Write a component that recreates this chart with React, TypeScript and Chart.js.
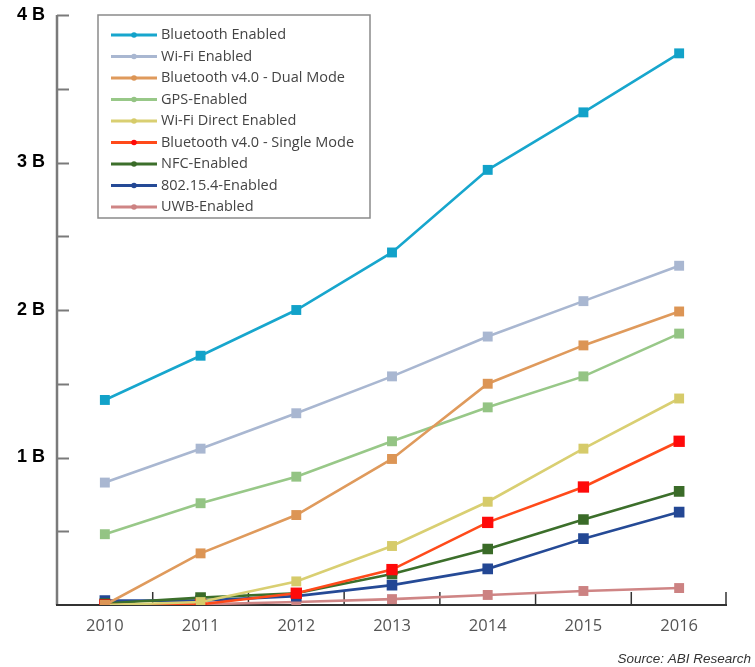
import React, { useEffect, useRef } from "react";
import { Chart, registerables } from "chart.js";

Chart.register(...registerables);

const years = ["2010", "2011", "2012", "2013", "2014", "2015", "2016"];

const seriesNames = [
  "Bluetooth Enabled",
  "Wi-Fi Enabled",
  "Bluetooth v4.0 - Dual Mode",
  "GPS-Enabled",
  "Wi-Fi Direct Enabled",
  "Bluetooth v4.0 - Single Mode",
  "NFC-Enabled",
  "802.15.4-Enabled",
  "UWB-Enabled",
];

const bluetoothEnabled = [1.39, 1.69, 2.0, 2.39, 2.95, 3.34, 3.74];
const wifiEnabled = [0.83, 1.06, 1.3, 1.55, 1.82, 2.06, 2.3];
const btDualMode = [0.0, 0.35, 0.61, 0.99, 1.5, 1.76, 1.99];
const gpsEnabled = [0.48, 0.69, 0.87, 1.11, 1.34, 1.55, 1.84];
const wifiDirect = [0.0, 0.02, 0.16, 0.4, 0.7, 1.06, 1.4];
const btSingleMode = [0.0, 0.005, 0.08, 0.24, 0.56, 0.8, 1.11];
const nfcEnabled = [0.01, 0.05, 0.08, 0.21, 0.38, 0.58, 0.77];
const ieee802154 = [0.03, 0.03, 0.06, 0.135, 0.245, 0.45, 0.63];
const uwbEnabled = [0.0, 0.005, 0.02, 0.04, 0.068, 0.095, 0.115];

const yTickLabels = ["", "", "1 B", "", "2 B", "", "3 B", "", "4 B"];
const sourceText = "Source: ABI Research";

const seriesValues = [
  bluetoothEnabled,
  wifiEnabled,
  btDualMode,
  gpsEnabled,
  wifiDirect,
  btSingleMode,
  nfcEnabled,
  ieee802154,
  uwbEnabled,
];

const lineColors = [
  "#17a6cd",
  "#a9b7d1",
  "#df9a5c",
  "#98c888",
  "#d9cf72",
  "#ff4a1a",
  "#3c6f2b",
  "#254a96",
  "#cf8585",
];
const pointColors = [
  "#12a2c9",
  "#a9b7d1",
  "#dc9555",
  "#94c484",
  "#d6cb6a",
  "#ff0a0a",
  "#3a6b28",
  "#234794",
  "#cc8282",
];
const pointSizes = [7, 7, 7, 7, 7, 8, 7.5, 7.5, 7];

const LABEL_FONT = "'Open Sans', 'Liberation Sans', sans-serif";

const axesPlugin = {
  id: "customAxes",
  beforeDatasetsDraw(chart: any) {
    const { ctx, chartArea, scales } = chart;
    const x = scales.x;
    const y = scales.y;
    ctx.save();
    // y axis
    ctx.strokeStyle = "#7a7a7a";
    ctx.lineWidth = 2.5;
    ctx.beginPath();
    ctx.moveTo(chartArea.left, chartArea.top);
    ctx.lineTo(chartArea.left, chartArea.bottom);
    ctx.stroke();
    ctx.lineWidth = 2;
    for (let v = 0.5; v <= 4.001; v += 0.5) {
      const py = Math.round(y.getPixelForValue(v)) + 0.5;
      ctx.beginPath();
      ctx.moveTo(chartArea.left, py);
      ctx.lineTo(chartArea.left + 12, py);
      ctx.stroke();
    }
    // x axis
    ctx.strokeStyle = "#333";
    ctx.lineWidth = 2;
    ctx.beginPath();
    ctx.moveTo(chartArea.left - 1, chartArea.bottom);
    ctx.lineTo(chartArea.right, chartArea.bottom);
    ctx.stroke();
    ctx.lineWidth = 1.5;
    for (let i = 0; i < years.length; i++) {
      const px = i === years.length - 1 ? chartArea.right - 1 : (x.getPixelForValue(i) + x.getPixelForValue(i + 1)) / 2;
      ctx.beginPath();
      ctx.moveTo(px, chartArea.bottom);
      ctx.lineTo(px, chartArea.bottom - 13);
      ctx.stroke();
    }
    ctx.restore();
  },
  afterDraw(chart: any) {
    const { ctx } = chart;
    ctx.save();
    // legend box
    const bx = 98, by = 15, bw = 272, bh = 203;
    ctx.fillStyle = "#ffffff";
    ctx.fillRect(bx, by, bw, bh);
    ctx.strokeStyle = "#8a8a8a";
    ctx.lineWidth = 1.5;
    ctx.strokeRect(bx, by, bw, bh);
    ctx.font = `14.5px ${LABEL_FONT}`;
    ctx.textBaseline = "middle";
    ctx.textAlign = "left";
    for (let i = 0; i < seriesNames.length; i++) {
      const cy = 35 + i * 21.5;
      ctx.strokeStyle = lineColors[i];
      ctx.lineWidth = 3;
      ctx.beginPath();
      ctx.moveTo(111, cy);
      ctx.lineTo(157, cy);
      ctx.stroke();
      ctx.fillStyle = pointColors[i];
      ctx.beginPath();
      ctx.arc(134, cy, 2.8, 0, Math.PI * 2);
      ctx.fill();
      ctx.fillStyle = "#444";
      ctx.fillText(seriesNames[i], 161, cy);
    }
    // source
    ctx.font = `italic 13.5px 'Liberation Sans', Arial, sans-serif`;
    ctx.fillStyle = "#333";
    ctx.textAlign = "right";
    ctx.textBaseline = "alphabetic";
    ctx.fillText(sourceText, 751, 663);
    ctx.restore();
  },
};

export default function App() {
  const canvasRef = useRef<HTMLCanvasElement | null>(null);

  useEffect(() => {
    if (!canvasRef.current) return;
    const chart = new Chart(canvasRef.current, {
      type: "line",
      data: {
        labels: years,
        datasets: seriesNames.map((name, i) => ({
          label: name,
          data: seriesValues[i],
          borderColor: lineColors[i],
          backgroundColor: pointColors[i],
          pointBackgroundColor: pointColors[i],
          pointBorderColor: pointColors[i],
          pointBorderWidth: 0,
          pointStyle: "rect",
          pointRadius: pointSizes[i],
          borderWidth: 2.6,
          tension: 0,
          fill: false,
        })),
      },
      options: {
        animation: false,
        responsive: false,
        maintainAspectRatio: false,
        layout: { padding: { left: 0, top: 15, right: 28, bottom: 0 } },
        plugins: {
          legend: { display: false },
          tooltip: { enabled: false },
        },
        scales: {
          x: {
            type: "category",
            offset: true,
            grid: { display: false, drawTicks: false },
            border: { display: false },
            ticks: {
              color: "#555",
              font: { family: LABEL_FONT, size: 16.5 },
              padding: 11,
              maxRotation: 0,
            },
            afterFit: (s: any) => {
              s.height = 62;
              s.paddingLeft = 0;
              s.paddingRight = 0;
            },
          },
          y: {
            min: 0,
            max: 4,
            grid: { display: false, drawTicks: false },
            border: { display: false },
            ticks: {
              stepSize: 0.5,
              color: "#000",
              font: { family: "'Liberation Sans', Arial, sans-serif", size: 18, weight: "bold" },
              padding: 12,
              callback: (_v: any, idx: number) => yTickLabels[idx] ?? "",
            },
            afterFit: (s: any) => {
              s.width = 57;
              s.paddingTop = 0;
              s.paddingBottom = 0;
            },
          },
        },
      },
      plugins: [axesPlugin],
    });
    return () => chart.destroy();
  }, []);

  return (
    <div style={{ position: "absolute", left: 0, top: 0, width: 755, height: 667, background: "#fff" }}>
      <canvas ref={canvasRef} width={755} height={667} style={{ width: 755, height: 667, display: "block" }} />
    </div>
  );
}
